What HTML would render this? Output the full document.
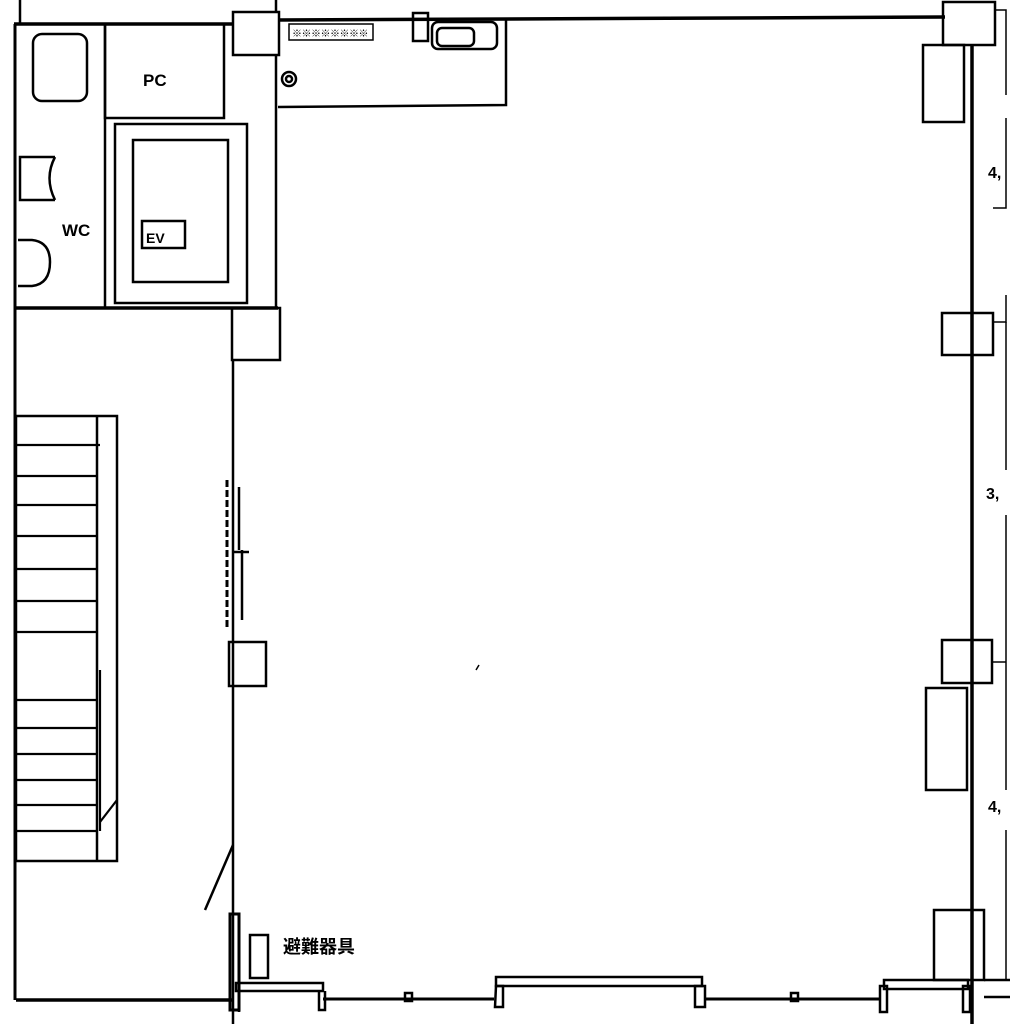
<!DOCTYPE html>
<html><head><meta charset="utf-8"><style>
html,body{margin:0;padding:0;background:#fff;}
svg{display:block;}
text{font-family:"Liberation Sans","Noto Sans CJK JP",sans-serif;font-weight:bold;fill:#000;}
</style></head><body>
<svg width="1010" height="1024" viewBox="0 0 1010 1024" xmlns="http://www.w3.org/2000/svg">
<g fill="none" stroke="#000" stroke-width="2.5">
<line x1="20" y1="0" x2="20" y2="24"/>
<line x1="276" y1="0" x2="276" y2="12"/>
<line x1="14" y1="24" x2="233" y2="24" stroke-width="3.5"/>
<line x1="15" y1="24" x2="15" y2="1000" stroke-width="3"/>
<rect x="33" y="34" width="54" height="67" rx="9"/>
<path d="M55 157 H20 V200 H55 M55 157 Q44 178 55 200"/>
<path d="M18 240 H32 Q50 242 50 262 Q50 284 32 286 H18"/>
<line x1="105" y1="24" x2="105" y2="307"/>
<rect x="105" y="24" width="119" height="94"/>
<rect x="115" y="124" width="132" height="179"/>
<rect x="133" y="140" width="95" height="142"/>
<rect x="142" y="221" width="43" height="27"/>
<line x1="16" y1="308" x2="278" y2="308" stroke-width="3.5"/>
<rect x="233" y="12" width="46" height="43"/>
<line x1="276" y1="55" x2="276" y2="308"/>
<line x1="278" y1="20" x2="945" y2="17" stroke-width="3.5"/>
<polyline points="278,107 506,105 506,20"/>
<rect x="289" y="24" width="84" height="16" stroke-width="1.5"/>
<rect x="413" y="13" width="15" height="28"/>
<rect x="432" y="22" width="65" height="27" rx="6"/>
<rect x="437" y="28" width="37" height="18" rx="5"/>
<circle cx="289" cy="79" r="7"/><circle cx="289" cy="79" r="3"/>
<rect x="943" y="2" width="52" height="43"/>
<line x1="972" y1="45" x2="972" y2="1024" stroke-width="3.5"/>
<rect x="923" y="45" width="41" height="77"/>
<rect x="942" y="313" width="51" height="42"/>
<rect x="942" y="640" width="50" height="43"/>
<rect x="926" y="688" width="41" height="102"/>
<polyline points="995,10 1006,10 1006,95" stroke-width="1.5"/>
<polyline points="1006,118 1006,208 993,208" stroke-width="1.5"/>
<polyline points="993,322 1006,322 1006,295" stroke-width="1.5"/>
<line x1="1006" y1="322" x2="1006" y2="470" stroke-width="1.5"/>
<line x1="1006" y1="515" x2="1006" y2="662" stroke-width="1.5"/>
<line x1="993" y1="662" x2="1006" y2="662" stroke-width="1.5"/>
<line x1="1006" y1="662" x2="1006" y2="790" stroke-width="1.5"/>
<line x1="1006" y1="830" x2="1006" y2="980" stroke-width="1.5"/>
<rect x="16" y="416" width="101" height="445"/>
<line x1="97" y1="416" x2="97" y2="861"/>
<g stroke-width="2.2">
<line x1="16" y1="445" x2="100" y2="445"/><line x1="16" y1="476" x2="97" y2="476"/>
<line x1="16" y1="505" x2="97" y2="505"/><line x1="16" y1="536" x2="97" y2="536"/>
<line x1="16" y1="569" x2="97" y2="569"/><line x1="16" y1="601" x2="97" y2="601"/>
<line x1="16" y1="632" x2="97" y2="632"/><line x1="16" y1="700" x2="97" y2="700"/>
<line x1="16" y1="728" x2="97" y2="728"/><line x1="16" y1="754" x2="97" y2="754"/>
<line x1="16" y1="780" x2="97" y2="780"/><line x1="16" y1="805" x2="97" y2="805"/>
<line x1="16" y1="831" x2="97" y2="831"/>
<line x1="100" y1="670" x2="100" y2="831"/>
<line x1="100" y1="822" x2="117" y2="800"/>
</g>
<rect x="232" y="308" width="48" height="52"/>
<line x1="233" y1="360" x2="233" y2="1024"/>
<line x1="227" y1="480" x2="227" y2="628" stroke-width="3" stroke-dasharray="7,3"/>
<line x1="239" y1="487" x2="239" y2="550"/>
<line x1="242" y1="550" x2="242" y2="620"/>
<line x1="233" y1="552" x2="249" y2="552"/>
<rect x="229" y="642" width="37" height="44"/>
<line x1="233" y1="845" x2="205" y2="910"/>
<line x1="479" y1="665" x2="476" y2="670" stroke-width="1.5"/>
<line x1="16" y1="1000" x2="232" y2="1000" stroke-width="3.5"/>
<rect x="230" y="914" width="9" height="96" stroke-width="3"/>
<rect x="250" y="935" width="18" height="43"/>
<rect x="236" y="983" width="87" height="8"/>
<path d="M239 991 V1012 M319 991 V1010 H325 V991"/>
<line x1="323" y1="999" x2="494" y2="999" stroke-width="3"/>
<rect x="405" y="993" width="7" height="8"/>
<rect x="496" y="977" width="206" height="9"/>
<path d="M496 986 H503 V1007 H495 Z M695 986 H705 V1007 H695 Z"/>
<line x1="705" y1="999" x2="880" y2="999" stroke-width="3"/>
<rect x="791" y="993" width="7" height="8"/>
<rect x="884" y="980" width="84" height="9"/>
<path d="M880 986 H887 V1012 H880 Z M963 986 H970 V1012 H963 Z"/>
<rect x="934" y="910" width="50" height="70"/>
<line x1="984" y1="980" x2="1010" y2="980"/>
<line x1="984" y1="997" x2="1010" y2="997"/>
</g>
<text x="143" y="86" font-size="17">PC</text>
<text x="62" y="236" font-size="17">WC</text>
<text x="146" y="243" font-size="14">EV</text>
<text x="283" y="953" font-size="18" font-weight="normal">避難器具</text>
<text x="988" y="178" font-size="16">4,</text>
<text x="986" y="499" font-size="16">3,</text>
<text x="988" y="812" font-size="16">4,</text>
<text x="292" y="37" font-size="10" font-weight="normal" letter-spacing="-0.5">※※※※※※※※</text>
</svg>
</body></html>
